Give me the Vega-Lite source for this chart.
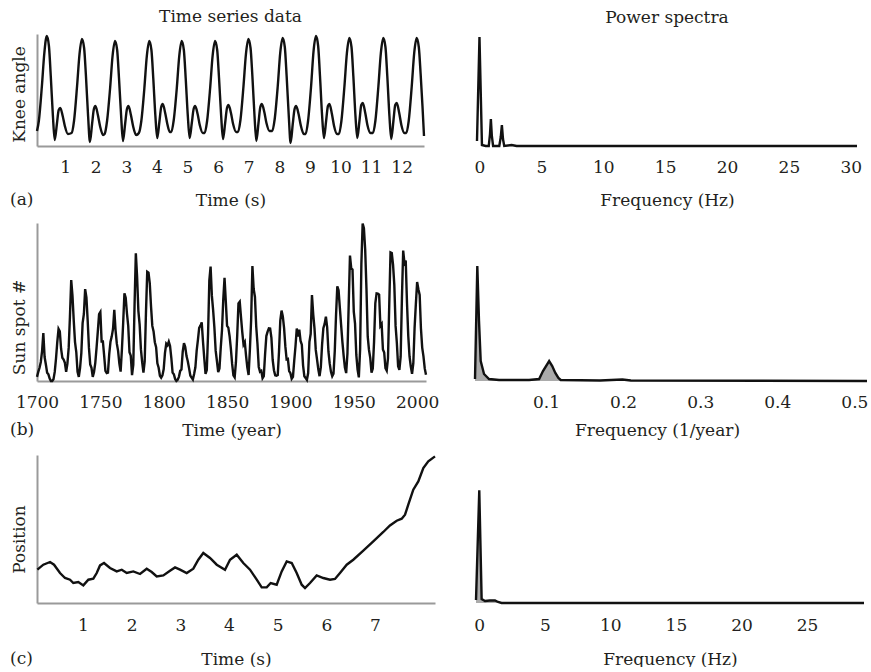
{
  "$schema": "https://vega.github.io/schema/vega-lite/v6.json",
  "padding": {"left": 10, "top": 8, "right": 0, "bottom": 0},
  "background": "white",
  "config": {
    "font": "DejaVu Serif",
    "view": {"stroke": null},
    "axis": {
      "grid": false, "ticks": false, "tickSize": 0, "labelOverlap": false, "labelFlush": false,
      "labelFont": "DejaVu Serif", "labelFontSize": 17, "labelColor": "#231f20", "labelPadding": 13,
      "titleFont": "DejaVu Serif", "titleFontSize": 17, "titleFontWeight": "normal", "titleColor": "#231f20",
      "domainColor": "#9a9a9a", "domainWidth": 2
    },
    "title": {"font": "DejaVu Serif", "fontSize": 17, "fontWeight": "normal", "color": "#231f20"},
    "line": {"color": "#111111", "strokeWidth": 2.4, "interpolate": "monotone"},
    "area": {"color": "#ababab", "interpolate": "linear"}
  },
  "datasets": {
    "knee": [
      {"t":0.08,"v":15},{"t":0.14,"v":25},{"t":0.24,"v":60},{"t":0.32,"v":93},{"t":0.40,"v":110},{"t":0.47,"v":100},{"t":0.53,"v":70},{"t":0.60,"v":30},{"t":0.66,"v":6},{"t":0.73,"v":22},{"t":0.79,"v":36},{"t":0.84,"v":38},{"t":0.92,"v":30},{"t":0.99,"v":20},{"t":1.09,"v":12},
      {"t":1.21,"v":13},{"t":1.29,"v":25},{"t":1.39,"v":60},{"t":1.47,"v":92},{"t":1.55,"v":107},{"t":1.62,"v":98},{"t":1.68,"v":70},{"t":1.75,"v":30},{"t":1.81,"v":4},{"t":1.88,"v":22},{"t":1.94,"v":37},{"t":1.99,"v":40},{"t":2.07,"v":31},{"t":2.14,"v":20},{"t":2.24,"v":11},
      {"t":2.29,"v":12},{"t":2.37,"v":25},{"t":2.47,"v":58},{"t":2.55,"v":90},{"t":2.63,"v":105},{"t":2.70,"v":96},{"t":2.76,"v":68},{"t":2.83,"v":30},{"t":2.89,"v":5},{"t":2.96,"v":22},{"t":3.02,"v":37},{"t":3.07,"v":40},{"t":3.15,"v":31},{"t":3.22,"v":20},{"t":3.32,"v":11},
      {"t":3.41,"v":13},{"t":3.49,"v":25},{"t":3.59,"v":58},{"t":3.67,"v":90},{"t":3.75,"v":105},{"t":3.82,"v":96},{"t":3.88,"v":68},{"t":3.95,"v":30},{"t":4.01,"v":8},{"t":4.08,"v":24},{"t":4.14,"v":39},{"t":4.19,"v":42},{"t":4.27,"v":33},{"t":4.34,"v":22},{"t":4.42,"v":14},
      {"t":4.47,"v":14},{"t":4.55,"v":26},{"t":4.65,"v":58},{"t":4.73,"v":90},{"t":4.81,"v":105},{"t":4.88,"v":96},{"t":4.94,"v":68},{"t":5.01,"v":30},{"t":5.07,"v":8},{"t":5.14,"v":23},{"t":5.20,"v":37},{"t":5.25,"v":40},{"t":5.33,"v":32},{"t":5.40,"v":21},{"t":5.50,"v":13},
      {"t":5.56,"v":13},{"t":5.64,"v":25},{"t":5.74,"v":58},{"t":5.82,"v":90},{"t":5.90,"v":105},{"t":5.97,"v":96},{"t":6.03,"v":68},{"t":6.10,"v":30},{"t":6.16,"v":7},{"t":6.23,"v":23},{"t":6.29,"v":38},{"t":6.34,"v":41},{"t":6.42,"v":33},{"t":6.49,"v":22},{"t":6.59,"v":14},
      {"t":6.65,"v":14},{"t":6.73,"v":26},{"t":6.83,"v":60},{"t":6.91,"v":92},{"t":6.99,"v":107},{"t":7.06,"v":98},{"t":7.12,"v":70},{"t":7.19,"v":30},{"t":7.25,"v":5},{"t":7.32,"v":23},{"t":7.38,"v":39},{"t":7.43,"v":42},{"t":7.51,"v":34},{"t":7.58,"v":23},{"t":7.68,"v":15},
      {"t":7.77,"v":15},{"t":7.85,"v":27},{"t":7.95,"v":60},{"t":8.03,"v":93},{"t":8.11,"v":108},{"t":8.18,"v":99},{"t":8.24,"v":70},{"t":8.31,"v":30},{"t":8.37,"v":3},{"t":8.44,"v":22},{"t":8.50,"v":37},{"t":8.55,"v":40},{"t":8.63,"v":32},{"t":8.70,"v":21},{"t":8.80,"v":12},
      {"t":8.86,"v":12},{"t":8.94,"v":25},{"t":9.04,"v":60},{"t":9.12,"v":95},{"t":9.20,"v":110},{"t":9.27,"v":100},{"t":9.33,"v":70},{"t":9.40,"v":30},{"t":9.46,"v":8},{"t":9.53,"v":25},{"t":9.59,"v":40},{"t":9.64,"v":42},{"t":9.72,"v":32},{"t":9.79,"v":20},{"t":9.89,"v":12},
      {"t":9.95,"v":12},{"t":10.03,"v":25},{"t":10.13,"v":60},{"t":10.21,"v":93},{"t":10.29,"v":108},{"t":10.36,"v":99},{"t":10.42,"v":70},{"t":10.49,"v":30},{"t":10.55,"v":8},{"t":10.62,"v":25},{"t":10.68,"v":41},{"t":10.73,"v":43},{"t":10.81,"v":33},{"t":10.88,"v":21},{"t":10.98,"v":13},
      {"t":11.06,"v":13},{"t":11.14,"v":25},{"t":11.24,"v":60},{"t":11.32,"v":93},{"t":11.40,"v":108},{"t":11.47,"v":99},{"t":11.53,"v":70},{"t":11.60,"v":30},{"t":11.66,"v":7},{"t":11.73,"v":25},{"t":11.79,"v":41},{"t":11.84,"v":43},{"t":11.92,"v":33},{"t":11.99,"v":21},{"t":12.09,"v":13},
      {"t":12.15,"v":13},{"t":12.23,"v":25},{"t":12.33,"v":60},{"t":12.41,"v":93},{"t":12.49,"v":108},{"t":12.56,"v":99},{"t":12.62,"v":72},{"t":12.68,"v":40},{"t":12.73,"v":10}
    ],
    "specA": [
      {"f":-0.2,"p":5},{"f":0,"p":109},{"f":0.2,"p":1},{"f":0.5,"p":0},{"f":0.75,"p":0},{"f":0.85,"p":12},{"f":0.92,"p":27},{"f":1.0,"p":10},{"f":1.1,"p":0},{"f":1.6,"p":0},{"f":1.72,"p":9},{"f":1.81,"p":21},{"f":1.9,"p":7},{"f":2.0,"p":0},{"f":2.6,"p":1},{"f":3.0,"p":0},{"f":30.5,"p":0}
    ],
    "sun": [
      {"y":1700,"s":5},{"y":1701,"s":11},{"y":1702,"s":16},{"y":1703,"s":23},{"y":1704,"s":36},{"y":1705,"s":58},{"y":1706,"s":29},{"y":1707,"s":20},{"y":1708,"s":10},{"y":1709,"s":8},
      {"y":1710,"s":3},{"y":1711,"s":0},{"y":1712,"s":0},{"y":1713,"s":2},{"y":1714,"s":11},{"y":1715,"s":27},{"y":1716,"s":47},{"y":1717,"s":63},{"y":1718,"s":60},{"y":1719,"s":39},
      {"y":1720,"s":28},{"y":1721,"s":26},{"y":1722,"s":22},{"y":1723,"s":11},{"y":1724,"s":21},{"y":1725,"s":40},{"y":1726,"s":78},{"y":1727,"s":122},{"y":1728,"s":103},{"y":1729,"s":73},
      {"y":1730,"s":47},{"y":1731,"s":35},{"y":1732,"s":11},{"y":1733,"s":5},{"y":1734,"s":16},{"y":1735,"s":34},{"y":1736,"s":70},{"y":1737,"s":81},{"y":1738,"s":111},{"y":1739,"s":101},
      {"y":1740,"s":73},{"y":1741,"s":40},{"y":1742,"s":20},{"y":1743,"s":16},{"y":1744,"s":5},{"y":1745,"s":11},{"y":1746,"s":22},{"y":1747,"s":40},{"y":1748,"s":60},{"y":1749,"s":80.9},
      {"y":1750,"s":83.4},{"y":1751,"s":47.7},{"y":1752,"s":47.8},{"y":1753,"s":30.7},{"y":1754,"s":12.2},{"y":1755,"s":9.6},{"y":1756,"s":10.2},{"y":1757,"s":32.4},{"y":1758,"s":47.6},{"y":1759,"s":54},
      {"y":1760,"s":62.9},{"y":1761,"s":85.9},{"y":1762,"s":61.2},{"y":1763,"s":45.1},{"y":1764,"s":36.4},{"y":1765,"s":20.9},{"y":1766,"s":11.4},{"y":1767,"s":37.8},{"y":1768,"s":69.8},{"y":1769,"s":106.1},
      {"y":1770,"s":100.8},{"y":1771,"s":81.6},{"y":1772,"s":66.5},{"y":1773,"s":34.8},{"y":1774,"s":30.6},{"y":1775,"s":7},{"y":1776,"s":19.8},{"y":1777,"s":92.5},{"y":1778,"s":154.4},{"y":1779,"s":125.9},
      {"y":1780,"s":84.8},{"y":1781,"s":68.1},{"y":1782,"s":38.5},{"y":1783,"s":22.8},{"y":1784,"s":10.2},{"y":1785,"s":24.1},{"y":1786,"s":82.9},{"y":1787,"s":132},{"y":1788,"s":130.9},{"y":1789,"s":118.1},
      {"y":1790,"s":89.9},{"y":1791,"s":66.6},{"y":1792,"s":60},{"y":1793,"s":46.9},{"y":1794,"s":41},{"y":1795,"s":21.3},{"y":1796,"s":16},{"y":1797,"s":6.4},{"y":1798,"s":4.1},{"y":1799,"s":6.8},
      {"y":1800,"s":14.5},{"y":1801,"s":34},{"y":1802,"s":45},{"y":1803,"s":43.1},{"y":1804,"s":47.5},{"y":1805,"s":42.2},{"y":1806,"s":28.1},{"y":1807,"s":10.1},{"y":1808,"s":8.1},{"y":1809,"s":2.5},
      {"y":1810,"s":0},{"y":1811,"s":1.4},{"y":1812,"s":5},{"y":1813,"s":12.2},{"y":1814,"s":13.9},{"y":1815,"s":35.4},{"y":1816,"s":45.8},{"y":1817,"s":41.1},{"y":1818,"s":30.1},{"y":1819,"s":23.9},
      {"y":1820,"s":15.6},{"y":1821,"s":6.6},{"y":1822,"s":4},{"y":1823,"s":1.8},{"y":1824,"s":8.5},{"y":1825,"s":16.6},{"y":1826,"s":36.3},{"y":1827,"s":49.6},{"y":1828,"s":64.2},{"y":1829,"s":67},
      {"y":1830,"s":70.9},{"y":1831,"s":47.8},{"y":1832,"s":27.5},{"y":1833,"s":8.5},{"y":1834,"s":13.2},{"y":1835,"s":56.9},{"y":1836,"s":121.5},{"y":1837,"s":138.3},{"y":1838,"s":103.2},{"y":1839,"s":85.7},
      {"y":1840,"s":64.6},{"y":1841,"s":36.7},{"y":1842,"s":24.2},{"y":1843,"s":10.7},{"y":1844,"s":15},{"y":1845,"s":40.1},{"y":1846,"s":61.5},{"y":1847,"s":98.5},{"y":1848,"s":124.7},{"y":1849,"s":96.3},
      {"y":1850,"s":66.6},{"y":1851,"s":64.5},{"y":1852,"s":54.1},{"y":1853,"s":39},{"y":1854,"s":20.6},{"y":1855,"s":6.7},{"y":1856,"s":4.3},{"y":1857,"s":22.7},{"y":1858,"s":54.8},{"y":1859,"s":93.8},
      {"y":1860,"s":95.8},{"y":1861,"s":77.2},{"y":1862,"s":59.1},{"y":1863,"s":44},{"y":1864,"s":47},{"y":1865,"s":30.5},{"y":1866,"s":16.3},{"y":1867,"s":7.3},{"y":1868,"s":37.6},{"y":1869,"s":74},
      {"y":1870,"s":139},{"y":1871,"s":111.2},{"y":1872,"s":101.6},{"y":1873,"s":66.2},{"y":1874,"s":44.7},{"y":1875,"s":17},{"y":1876,"s":11.3},{"y":1877,"s":12.4},{"y":1878,"s":3.4},{"y":1879,"s":6},
      {"y":1880,"s":32.3},{"y":1881,"s":54.3},{"y":1882,"s":59.7},{"y":1883,"s":63.7},{"y":1884,"s":63.5},{"y":1885,"s":52.2},{"y":1886,"s":25.4},{"y":1887,"s":13.1},{"y":1888,"s":6.8},{"y":1889,"s":6.3},
      {"y":1890,"s":7.1},{"y":1891,"s":35.6},{"y":1892,"s":73},{"y":1893,"s":85.1},{"y":1894,"s":78},{"y":1895,"s":64},{"y":1896,"s":41.8},{"y":1897,"s":26.2},{"y":1898,"s":26.7},{"y":1899,"s":12.1},
      {"y":1900,"s":9.5},{"y":1901,"s":2.7},{"y":1902,"s":5},{"y":1903,"s":24.4},{"y":1904,"s":42},{"y":1905,"s":63.5},{"y":1906,"s":53.8},{"y":1907,"s":62},{"y":1908,"s":48.5},{"y":1909,"s":43.9},
      {"y":1910,"s":18.6},{"y":1911,"s":5.7},{"y":1912,"s":3.6},{"y":1913,"s":1.4},{"y":1914,"s":9.6},{"y":1915,"s":47.4},{"y":1916,"s":57.1},{"y":1917,"s":103.9},{"y":1918,"s":80.6},{"y":1919,"s":63.6},
      {"y":1920,"s":37.6},{"y":1921,"s":26.1},{"y":1922,"s":14.2},{"y":1923,"s":5.8},{"y":1924,"s":16.7},{"y":1925,"s":44.3},{"y":1926,"s":63.9},{"y":1927,"s":69},{"y":1928,"s":77.8},{"y":1929,"s":64.9},
      {"y":1930,"s":35.7},{"y":1931,"s":21.2},{"y":1932,"s":11.1},{"y":1933,"s":5.7},{"y":1934,"s":8.7},{"y":1935,"s":36.1},{"y":1936,"s":79.7},{"y":1937,"s":114.4},{"y":1938,"s":109.6},{"y":1939,"s":88.8},
      {"y":1940,"s":67.8},{"y":1941,"s":47.5},{"y":1942,"s":30.6},{"y":1943,"s":16.3},{"y":1944,"s":9.6},{"y":1945,"s":33.2},{"y":1946,"s":92.6},{"y":1947,"s":151.6},{"y":1948,"s":136.3},{"y":1949,"s":134.7},
      {"y":1950,"s":83.9},{"y":1951,"s":69.4},{"y":1952,"s":31.5},{"y":1953,"s":13.9},{"y":1954,"s":4.4},{"y":1955,"s":38},{"y":1956,"s":141.7},{"y":1957,"s":190.2},{"y":1958,"s":184.8},{"y":1959,"s":159},
      {"y":1960,"s":112.3},{"y":1961,"s":53.9},{"y":1962,"s":37.6},{"y":1963,"s":27.9},{"y":1964,"s":10.2},{"y":1965,"s":15.1},{"y":1966,"s":47},{"y":1967,"s":93.8},{"y":1968,"s":105.9},{"y":1969,"s":105.5},
      {"y":1970,"s":104.5},{"y":1971,"s":66.6},{"y":1972,"s":68.9},{"y":1973,"s":38},{"y":1974,"s":34.5},{"y":1975,"s":15.5},{"y":1976,"s":12.6},{"y":1977,"s":27.5},{"y":1978,"s":92.5},{"y":1979,"s":155.4},
      {"y":1980,"s":154.6},{"y":1981,"s":140.4},{"y":1982,"s":115.9},{"y":1983,"s":66.6},{"y":1984,"s":45.9},{"y":1985,"s":17.9},{"y":1986,"s":13.4},{"y":1987,"s":29.4},{"y":1988,"s":100.2},{"y":1989,"s":157.6},
      {"y":1990,"s":142.6},{"y":1991,"s":145.7},{"y":1992,"s":94.3},{"y":1993,"s":54.6},{"y":1994,"s":29.9},{"y":1995,"s":17.5},{"y":1996,"s":8.6},{"y":1997,"s":21.5},{"y":1998,"s":64.3},{"y":1999,"s":93.3},
      {"y":2000,"s":119.6},{"y":2001,"s":111},{"y":2002,"s":104},{"y":2003,"s":63.7},{"y":2004,"s":40.4},{"y":2005,"s":29.8},{"y":2006,"s":15.2},{"y":2007,"s":7.5}
    ],
    "specB": [
      {"f":0.0078,"p":2},{"f":0.0108,"p":115},{"f":0.013,"p":60},{"f":0.0152,"p":20},{"f":0.0195,"p":7},{"f":0.026,"p":2},{"f":0.039,"p":1},{"f":0.078,"p":1},{"f":0.091,"p":2},{"f":0.096,"p":10},{"f":0.104,"p":20},{"f":0.108,"p":15},{"f":0.112,"p":8},{"f":0.116,"p":3},{"f":0.119,"p":1},{"f":0.17,"p":0.5},{"f":0.199,"p":1.5},{"f":0.21,"p":0.5},{"f":0.5164,"p":0}
    ],
    "pos": [
      {"t":0.062,"v":33.3},{"t":0.185,"v":38.3},{"t":0.323,"v":41},{"t":0.405,"v":38.3},{"t":0.528,"v":30},{"t":0.631,"v":25},{"t":0.734,"v":23.3},{"t":0.801,"v":20},{"t":0.904,"v":21},{"t":1.007,"v":17.6},
      {"t":1.110,"v":23.3},{"t":1.212,"v":24.3},{"t":1.282,"v":30},{"t":1.350,"v":37.6},{"t":1.432,"v":40},{"t":1.555,"v":35},{"t":1.693,"v":31.6},{"t":1.796,"v":33.3},{"t":1.899,"v":30},{"t":2.034,"v":31.6},
      {"t":2.172,"v":29},{"t":2.309,"v":34.3},{"t":2.412,"v":31},{"t":2.515,"v":26.6},{"t":2.651,"v":27.6},{"t":2.788,"v":32.3},{"t":2.891,"v":35.6},{"t":2.994,"v":33.3},{"t":3.131,"v":30},{"t":3.267,"v":34.3},
      {"t":3.370,"v":43.3},{"t":3.472,"v":50},{"t":3.610,"v":45},{"t":3.748,"v":38.3},{"t":3.918,"v":33.3},{"t":4.021,"v":43.3},{"t":4.159,"v":48.3},{"t":4.294,"v":40},{"t":4.432,"v":33.3},{"t":4.570,"v":23.3},
      {"t":4.672,"v":15.6},{"t":4.775,"v":15.6},{"t":4.857,"v":20},{"t":4.980,"v":18.3},{"t":5.083,"v":31.6},{"t":5.186,"v":41.6},{"t":5.289,"v":40},{"t":5.391,"v":30},{"t":5.494,"v":18.3},{"t":5.562,"v":15},
      {"t":5.665,"v":20},{"t":5.802,"v":27.6},{"t":5.938,"v":25},{"t":6.076,"v":23.3},{"t":6.178,"v":24},{"t":6.281,"v":30},{"t":6.419,"v":38.3},{"t":6.554,"v":43.3},{"t":6.760,"v":52.3},{"t":6.965,"v":61.6},
      {"t":7.171,"v":71},{"t":7.308,"v":77.6},{"t":7.446,"v":82.3},{"t":7.549,"v":84.3},{"t":7.617,"v":88.3},{"t":7.684,"v":98.3},{"t":7.787,"v":113.3},{"t":7.890,"v":121.6},{"t":7.993,"v":135},{"t":8.095,"v":141.6},{"t":8.233,"v":146.6}
    ],
    "specC": [
      {"f":-0.25,"p":3},{"f":0,"p":112.6},{"f":0.18,"p":4},{"f":0.44,"p":2},{"f":0.8,"p":2.5},{"f":1.2,"p":2.5},{"f":1.43,"p":1},{"f":1.7,"p":0},{"f":29.35,"p":0}
    ]
  },
  "spacing": 10,
  "vconcat": [
    {
      "title": {"text": "(a)", "orient": "bottom", "anchor": "start", "offset": -16},
      "bounds": "flush",
      "spacing": 53,
      "hconcat": [
        {
          "width": 387, "height": 112,
          "title": {"text": "Time series data", "offset": 5},
          "data": {"name": "knee"},
          "mark": {"type": "line"},
          "encoding": {
            "x": {"field": "t", "type": "quantitative", "scale": {"domain": [0.08, 12.73], "nice": false, "zero": false},
                  "axis": {"values": [1,2,3,4,5,6,7,8,9,10,11,12], "title": "Time (s)", "titlePadding": 17}},
            "y": {"field": "v", "type": "quantitative", "scale": {"domain": [0, 112], "nice": false},
                  "axis": {"labels": false, "title": "Knee angle", "titlePadding": 9, "titleY": 60}}
          }
        },
        {
          "width": 380, "height": 112,
          "title": {"text": "Power spectra", "offset": 5},
          "data": {"name": "specA"},
          "mark": {"type": "line", "interpolate": "linear"},
          "encoding": {
            "x": {"field": "f", "type": "quantitative", "scale": {"domain": [-0.2, 30.5], "nice": false, "zero": false},
                  "axis": {"values": [0,5,10,15,20,25,30], "title": "Frequency (Hz)", "domain": false, "titlePadding": 17}},
            "y": {"field": "p", "type": "quantitative", "scale": {"domain": [0, 112], "nice": false}, "axis": null}
          }
        }
      ]
    },
    {
      "spacing": 13,
      "vconcat": [
        {
          "title": {"text": "(b)", "orient": "bottom", "anchor": "start", "offset": -16},
          "bounds": "flush",
          "spacing": 49,
          "hconcat": [
            {
              "width": 389, "height": 158,
              "data": {"name": "sun"},
              "mark": {"type": "line", "interpolate": "linear"},
              "encoding": {
                "x": {"field": "y", "type": "quantitative", "scale": {"domain": [1700, 2007], "nice": false, "zero": false},
                      "axis": {"values": [1700,1750,1800,1850,1900,1950,2000], "format": "d", "title": "Time (year)", "titlePadding": 12}},
                "y": {"field": "s", "type": "quantitative", "scale": {"domain": [0, 191], "nice": false},
                      "axis": {"labels": false, "title": "Sun spot #", "titlePadding": 9, "titleY": 104}}
              }
            },
            {
              "width": 392, "height": 158,
              "data": {"name": "specB"},
              "encoding": {
                "x": {"field": "f", "type": "quantitative", "scale": {"domain": [0.0078, 0.5164], "nice": false, "zero": false},
                      "axis": {"values": [0.1,0.2,0.3,0.4,0.5], "format": ".1f", "title": "Frequency (1/year)", "titleX": 182, "domain": false, "titlePadding": 12}},
                "y": {"field": "p", "type": "quantitative", "scale": {"domain": [0, 158], "nice": false}, "axis": null}
              },
              "layer": [
                {"mark": {"type": "area"}},
                {"mark": {"type": "line", "interpolate": "linear"}}
              ]
            }
          ]
        },
        {
          "title": {"text": "(c)", "orient": "bottom", "anchor": "start", "offset": -16},
          "bounds": "flush",
          "spacing": 41,
          "hconcat": [
            {
              "width": 398, "height": 148,
              "data": {"name": "pos"},
              "mark": {"type": "line", "interpolate": "linear"},
              "encoding": {
                "x": {"field": "t", "type": "quantitative", "scale": {"domain": [0.055, 8.233], "nice": false, "zero": false},
                      "axis": {"values": [1,2,3,4,5,6,7], "title": "Time (s)", "titlePadding": 18, "labelPadding": 14}},
                "y": {"field": "v", "type": "quantitative", "scale": {"domain": [0, 148], "nice": false},
                      "axis": {"labels": false, "title": "Position", "titlePadding": 9, "titleY": 84}}
              }
            },
            {
              "width": 388, "height": 148,
              "data": {"name": "specC"},
              "encoding": {
                "x": {"field": "f", "type": "quantitative", "scale": {"domain": [-0.25, 29.35], "nice": false, "zero": false},
                      "axis": {"values": [0,5,10,15,20,25], "title": "Frequency (Hz)", "domain": false, "titlePadding": 18, "labelPadding": 14}},
                "y": {"field": "p", "type": "quantitative", "scale": {"domain": [0, 148], "nice": false}, "axis": null}
              },
              "layer": [
                {"mark": {"type": "area"}},
                {"mark": {"type": "line", "interpolate": "linear"}}
              ]
            }
          ]
        }
      ]
    }
  ]
}
